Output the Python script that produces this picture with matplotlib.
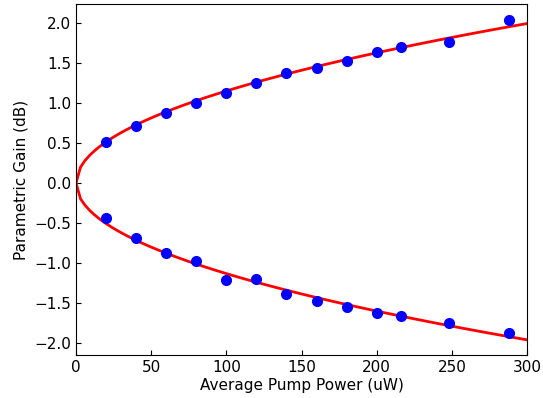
import numpy as np
import matplotlib
matplotlib.use("Agg")
import matplotlib.pyplot as plt

# --- data ---
power = [20, 40, 60, 80, 100, 120, 140, 160, 180, 200, 216, 248, 288]
gain_up = [0.52, 0.72, 0.88, 1.00, 1.13, 1.25, 1.38, 1.44, 1.53, 1.64, 1.70, 1.77, 2.04]
gain_down = [-0.44, -0.69, -0.87, -0.97, -1.21, -1.20, -1.39, -1.47, -1.55, -1.62, -1.66, -1.75, -1.88]

x = np.array(power, dtype=float)
# least squares fit of g = a*sqrt(P) for each branch
a_up = np.sum(np.array(gain_up) * np.sqrt(x)) / np.sum(x)
a_down = np.sum(np.array(gain_down) * np.sqrt(x)) / np.sum(x)
xf = np.linspace(0, 300, 101)

fig = plt.figure(figsize=(5.43, 3.98), dpi=100)
ax = fig.add_axes([76/543, 1 - 355/398, 451/543, 351/398])

ax.plot(xf, a_up * np.sqrt(xf), color="red", lw=2)
ax.plot(xf, a_down * np.sqrt(xf), color="red", lw=2)
ax.plot(power, gain_up, "o", color="blue", ms=7)
ax.plot(power, gain_down, "o", color="blue", ms=7)

ax.set_xlim(0, 300)
ax.set_ylim(-2.15, 2.24)
ax.tick_params(direction="in", labelsize=11)
ax.set_xlabel("Average Pump Power (uW)", fontsize=11, labelpad=2)
ax.set_ylabel("Parametric Gain (dB)", fontsize=11)

fig.savefig("out.png", dpi=100)
